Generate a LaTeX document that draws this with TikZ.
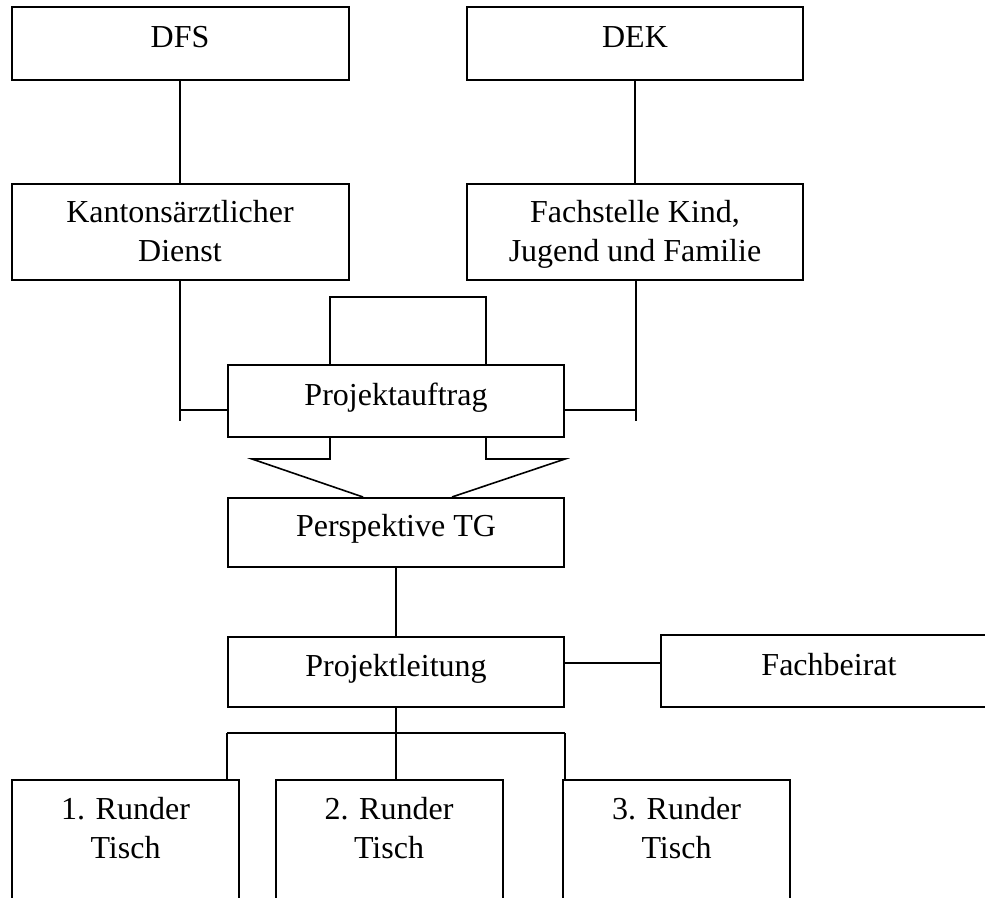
\documentclass[tikz,border=0pt]{standalone}
\usepackage{fontspec}
\setmainfont{Liberation Serif}
\usetikzlibrary{positioning, calc}

\begin{document}
\begin{tikzpicture}[
    x=1pt, y=-1pt,
    font=\fontsize{32}{39}\selectfont,
    block/.style={
        rectangle,
        draw,
        line width=2pt,
        minimum width=336pt,
        minimum height=72pt,
        align=center,
        inner sep=0pt,
        text height=22pt,
        text depth=14pt
    },
    twolines/.style={
        text height=64pt,
        text depth=6pt
    },
    tisch/.style={
        rectangle,
        draw,
        line width=2pt,
        anchor=north,
        minimum width=227pt,
        align=center,
        inner xsep=0pt,
        inner ysep=12pt,
        text height=66pt,
        text depth=160pt
    },
    line/.style={
        draw,
        line width=1.6pt
    }
]
\useasboundingbox (0,0) rectangle (985,897);

% Nodes
\node [block, minimum width=337pt, minimum height=73pt] (dfs) at (180,43.5) {DFS};
\node [block, minimum height=73pt] (dek) at (635,43.5) {DEK};
\node [block, twolines, minimum width=337pt, minimum height=96pt] (kant) at (180,232) {Kantonsärztlicher\\Dienst};
\node [block, twolines, minimum height=96pt] (fach) at (635,232) {Fachstelle Kind,\\Jugend und Familie};
\node [block] (auftrag) at (396,401) {Projektauftrag};
\node [block, minimum height=69pt] (perspektive) at (396,532.5) {Perspektive TG};
\node [block, minimum height=70pt] (leitung) at (396,672) {Projektleitung};
% Fachbeirat runs past the right edge of the page
\node [block, anchor=west, minimum width=400pt] (beirat) at (660,671) {Fachbeirat\kern64pt};
\node [tisch] (tisch1) at (125.5,779) {1. Runder\\Tisch};
\node [tisch] (tisch2) at (389,779) {2. Runder\\Tisch};
\node [tisch] (tisch3) at (676.5,779) {3. Runder\\Tisch};

% Helper points
\coordinate (klammerL) at (330,297);
\coordinate (klammerR) at (486,297);
\coordinate (kantfuss) at ($(kant.south)+(0,140)$);
\coordinate (fachfuss) at ($(fach.south)+(1,140)$);
\coordinate (auftragL) at ($(auftrag.west)+(0,9)$);
\coordinate (auftragR) at ($(auftrag.east)+(0,9)$);
\coordinate (pfeilL) at (330,459);
\coordinate (pfeilR) at (486,459);
\coordinate (beiratlink) at ($(leitung.east)+(0,-9)$);
\coordinate (verteiler) at ($(leitung.south)+(0,25)$);

% Paths
\path [line] (dfs) -- (kant);
\path [line] (dek) -- (fach);
\path [line] (klammerL |- auftrag.north) -- (klammerL) -- (klammerR) -- (klammerR |- auftrag.north);
\path [line] (kant.south) -- (kantfuss);
\path [line] (kantfuss |- auftragL) -- (auftragL);
\path [line] (fachfuss |- fach.south) -- (fachfuss);
\path [line] (auftragR) -- (fachfuss |- auftragR);
% Arrow down to Perspektive TG
\path [line] (pfeilL |- auftrag.south) -- (pfeilL) -- ++(-78,0) -- ($(perspektive.north)+(-33,0)$);
\path [line] (pfeilR |- auftrag.south) -- (pfeilR) -- ++(79,0) -- ($(perspektive.north)+(56,0)$);
\path [line] (perspektive) -- (leitung);
\path [line] (beiratlink) -- (beiratlink -| beirat.west);
% Runde Tische
\path [line] (leitung.south) -- (leitung.south |- tisch2.north);
\path [line] (verteiler -| leitung.west) -- (verteiler -| leitung.east);
\path [line] (verteiler -| leitung.west) -- (leitung.west |- tisch1.north);
\path [line] (verteiler -| leitung.east) -- (leitung.east |- tisch3.north);

\end{tikzpicture}
\end{document}
